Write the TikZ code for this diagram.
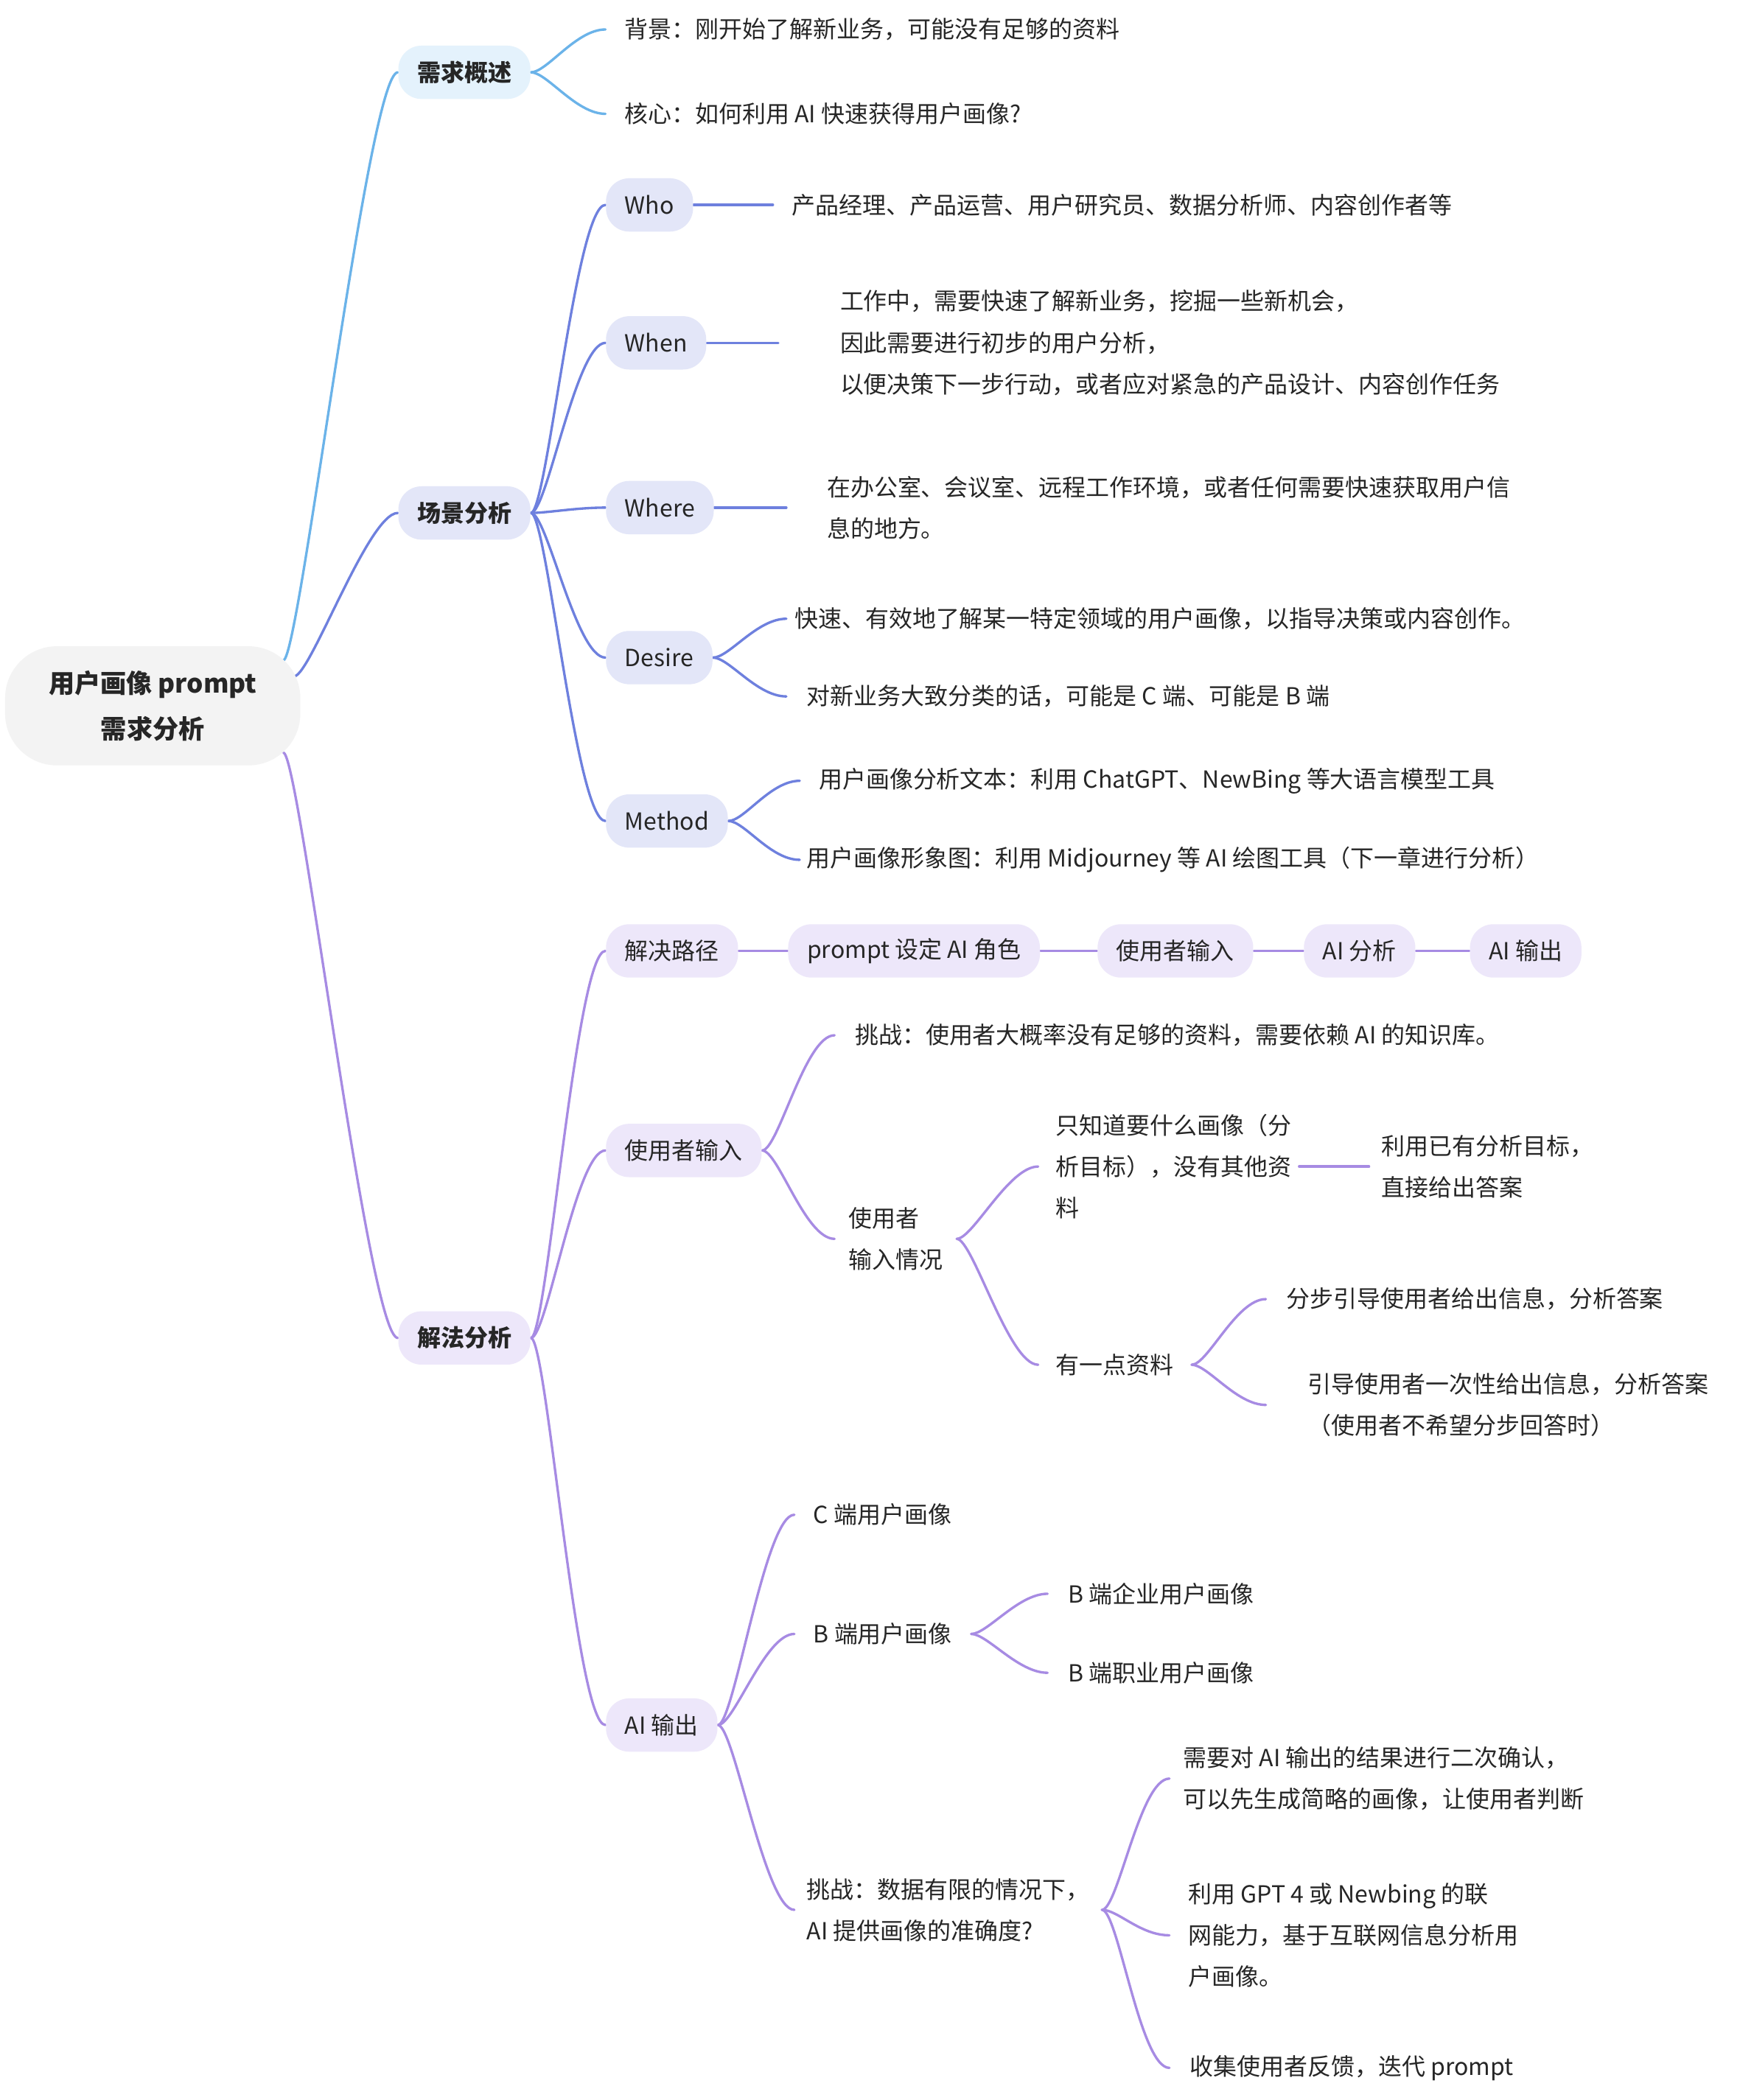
\documentclass[tikz,border=0pt]{standalone}
\usepackage{fontspec}
\setmainfont{Noto Sans CJK SC}
\usetikzlibrary{calc,backgrounds}
\definecolor{ink}{HTML}{262626}
\definecolor{rootfill}{HTML}{F3F3F3}
\definecolor{skyline}{HTML}{6BB3E9}
\definecolor{skyfill}{HTML}{E4F2FC}
\definecolor{indigoline}{HTML}{6E80DE}
\definecolor{indigofill}{HTML}{E3E6F8}
\definecolor{lilacline}{HTML}{A78BE3}
\definecolor{lilacfill}{HTML}{EDE7FA}
\newcommand\basefont{\fontsize{9.1}{16}\selectfont}
\tikzset{
	every node/.style={text=ink, font=\basefont},
	root/.style={fill=rootfill, rounded corners=20pt, minimum width=114pt, minimum height=46pt, align=center, font=\fontsize{10}{17.5}\selectfont\bfseries},
	topic/.style={anchor=west, rounded corners=9pt, minimum height=20.6pt, inner xsep=7.3pt, inner ysep=2pt},
	main/.style={topic, font=\basefont\bfseries},
	leaf/.style={anchor=west, align=left, inner xsep=7.2pt, inner ysep=0pt},
	link/.style={line width=0.95pt, line cap=round},
	branch/.style={link, to path={.. controls +(12,0) and +(-22,0) .. (\tikztotarget)}},
}
\begin{document}
\begin{tikzpicture}[x=0.181818mm, y=-0.181818mm]
		\useasboundingbox (0,0) rectangle (1309,1568);
		\node[root] (root) at (114,527) {用户画像 prompt\\需求分析};
		\node[main, fill=skyfill] (need) at (297,54) {需求概述};
		\node[main, fill=indigofill] (scene) at (297,383) {场景分析};
		\node[main, fill=lilacfill] (solve) at (297,999) {解法分析};

		\node[leaf] (bg) at (452,22) {背景：刚开始了解新业务，可能没有足够的资料};
		\node[leaf] (core) at (452,85) {核心：如何利用 AI 快速获得用户画像?};

		\node[topic, fill=indigofill] (who) at (452,153) {Who};
		\node[leaf] (whotext) at (577,153) {产品经理、产品运营、用户研究员、数据分析师、内容创作者等};
		\node[topic, fill=indigofill] (when) at (452,256) {When};
		\node[leaf, inner xsep=23.7pt] (whentext) at (581,256) {工作中，需要快速了解新业务，挖掘一些新机会，\\因此需要进行初步的用户分析，\\以便决策下一步行动，或者应对紧急的产品设计、内容创作任务};
		\node[topic, fill=indigofill] (where) at (452,379) {Where};
		\node[leaf, inner xsep=15.5pt] (wheretext) at (587,379) {在办公室、会议室、远程工作环境，或者任何需要快速获取用户信\\息的地方。};
		\node[topic, fill=indigofill] (desire) at (452,491) {Desire};
		\node[leaf, inner xsep=3pt] (d1) at (587,462) {快速、有效地了解某一特定领域的用户画像，以指导决策或内容创作。};
		\node[leaf, inner xsep=7.7pt] (d2) at (587,520) {对新业务大致分类的话，可能是 C 端、可能是 B 端};
		\node[topic, fill=indigofill] (method) at (452,613) {Method};
		\node[leaf] (m1) at (597,583) {用户画像分析文本：利用 ChatGPT、NewBing 等大语言模型工具};
		\node[leaf, inner xsep=2.6pt] (m2) at (597,642) {用户画像形象图：利用 Midjourney 等 AI 绘图工具（下一章进行分析）};

		\node[topic, fill=lilacfill] (route) at (452,710) {解决路径};
		\node[topic, fill=lilacfill] (r1) at (588,710) {prompt 设定 AI 角色};
		\node[topic, fill=lilacfill] (r2) at (819,710) {使用者输入};
		\node[topic, fill=lilacfill] (r3) at (973,710) {AI 分析};
		\node[topic, fill=lilacfill] (r4) at (1097,710) {AI 输出};

		\node[topic, fill=lilacfill] (input) at (452,859) {使用者输入};
		\node[leaf, inner xsep=7.7pt] (i1) at (623,773) {挑战：使用者大概率没有足够的资料，需要依赖 AI 的知识库。};
		\node[leaf, inner xsep=5.2pt] (i2) at (623,925) {使用者\\输入情况};
		\node[leaf, inner xsep=6.7pt] (i21) at (775,871) {只知道要什么画像（分\\析目标），没有其他资\\料};
		\node[leaf, inner xsep=4.6pt] (i211) at (1022,871) {利用已有分析目标，\\直接给出答案};
		\node[leaf, inner xsep=6.7pt] (i22) at (775,1019) {有一点资料};
		\node[leaf, inner xsep=7.7pt] (i221) at (945,970) {分步引导使用者给出信息，分析答案};
		\node[leaf, inner xsep=16pt] (i222) at (945,1049) {引导使用者一次性给出信息，分析答案\\（使用者不希望分步回答时）};

		\node[topic, fill=lilacfill] (aiout) at (452,1288) {AI 输出};
		\node[leaf] (o1) at (593,1131) {C 端用户画像};
		\node[leaf] (o2) at (593,1220) {B 端用户画像};
		\node[leaf, inner xsep=7.7pt] (o21) at (782,1190) {B 端企业用户画像};
		\node[leaf, inner xsep=7.7pt] (o22) at (782,1249) {B 端职业用户画像};
		\node[leaf, inner xsep=4.6pt] (o3) at (593,1426) {挑战：数据有限的情况下，\\AI 提供画像的准确度?};
		\node[leaf, inner xsep=5.2pt] (o31) at (873,1328) {需要对 AI 输出的结果进行二次确认，\\可以先生成简略的画像，让使用者判断};
		\node[leaf] (o32) at (873,1445) {利用 GPT 4 或 Newbing 的联\\网能力，基于互联网信息分析用\\户画像。};
		\node[leaf, inner xsep=7.7pt] (o33) at (873,1544) {收集使用者反馈，迭代 prompt};

		\begin{scope}[on background layer]
			\fill[white] (0,0) rectangle (1309,1568);
			\draw[skyline, branch] ($(root.east)+(-13,-34)$) to (need.west);
			\draw[indigoline, branch] ($(root.east)+(-5,-22)$) to (scene.west);
			\draw[lilacline, branch] ($(root.east)+(-13,35)$) to (solve.west);
			\draw[skyline, branch] (need.east) to (bg.west); \draw[skyline, branch] (need.east) to (core.west);
			\foreach \k in {who,when,where,desire,method} \draw[indigoline, branch] (scene.east) to (\k.west);
			\draw[indigoline, link] (who.east) -- (whotext.west); \draw[indigoline, link] (when.east) -- (whentext.west); \draw[indigoline, link] (where.east) -- (wheretext.west);
			\draw[indigoline, branch] (desire.east) to (d1.west); \draw[indigoline, branch] (desire.east) to (d2.west);
			\draw[indigoline, branch] (method.east) to (m1.west); \draw[indigoline, branch] (method.east) to (m2.west);
			\foreach \k in {route,input,aiout} \draw[lilacline, branch] (solve.east) to (\k.west);
			\draw[lilacline, link] (route) -- (r1) -- (r2) -- (r3) -- (r4);
			\draw[lilacline, branch] (input.east) to (i1.west); \draw[lilacline, branch] (input.east) to (i2.west);
			\draw[lilacline, branch] (i2.east) to (i21.west); \draw[lilacline, branch] (i2.east) to (i22.west);
			\draw[lilacline, link] ([xshift=-4pt]i21.east) -- (i211.west);
			\draw[lilacline, branch] (i22.east) to (i221.west); \draw[lilacline, branch] (i22.east) to (i222.west);
			\foreach \k in {o1,o2,o3} \draw[lilacline, branch] (aiout.east) to (\k.west);
			\draw[lilacline, branch] (o2.east) to (o21.west); \draw[lilacline, branch] (o2.east) to (o22.west);
			\foreach \k in {o31,o32,o33} \draw[lilacline, branch] (o3.east) to (\k.west);
		\end{scope}
\end{tikzpicture}
\end{document}
